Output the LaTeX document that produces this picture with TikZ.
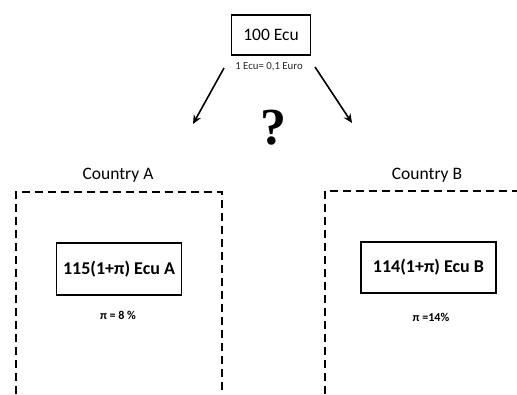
\documentclass[tikz,border=0pt]{standalone}
\usepackage{fontspec}
\setmainfont{Carlito}
\newfontfamily\qfont{Liberation Serif}
\usetikzlibrary{arrows.meta}
\tikzset{
  box/.style={draw=black, line width=1.8pt, inner sep=0pt, align=center},
  region/.style={draw=black, line width=2pt, dash pattern=on 8pt off 5pt},
  arr/.style={draw=black, line width=1.6pt, -{Stealth[length=9pt,width=8pt,inset=3pt]}},
  big/.style={font=\fontsize{17.5}{20}\selectfont},
  bigb/.style={font=\fontsize{18}{21}\selectfont\bfseries},
  small/.style={font=\fontsize{10.8}{12}\selectfont, text=black!85},
  smallb/.style={font=\fontsize{12}{14}\selectfont\bfseries},
}
\begin{document}
\begin{tikzpicture}[x=1pt,y=-1pt]
\useasboundingbox (0,0) rectangle (517,394);
% top
\node[box, big, minimum width=79pt, minimum height=40pt] (top) at (271,35) {100 Ecu};
\node[small] (rate) at (269,67) {1 Ecu= 0,1 Euro};
\coordinate (ls) at (224,68);
\coordinate (le) at (193,124);
\coordinate (rs) at (315,67);
\coordinate (re) at (352,123);
\draw[arr] (ls) -- (le);
\draw[arr] (rs) -- (re);
\node[font=\fontsize{52}{54}\selectfont\qfont\bfseries, inner sep=0pt] (q) at (273,128) {?};
% country A
\node[big] (ca) at (118,175) {Country A};
\coordinate (a1) at (15.5,394);
\coordinate (a2) at (15.5,192);
\coordinate (a3) at (221.5,192);
\coordinate (a4) at (221.5,394);
\draw[region] (a1) -- (a2) -- (a3) -- (a4);
\node[box, bigb, minimum width=125pt, minimum height=52pt] (boxa) at (119,269) {115(1+π) Ecu A};
\node[smallb] (pia) at (118,315) {π = 8 \%};
% country B
\node[big] (cb) at (427,175) {Country B};
\coordinate (b1) at (325,394);
\coordinate (b2) at (325,191);
\coordinate (b3) at (517,191);
\draw[region] (b1) -- (b2) -- (b3);
\node[box, bigb, minimum width=135pt, minimum height=51pt] (boxb) at (428.5,267.5) {114(1+π) Ecu B};
\node[smallb] (pib) at (431,317) {π =14\%};
\end{tikzpicture}
\end{document}
